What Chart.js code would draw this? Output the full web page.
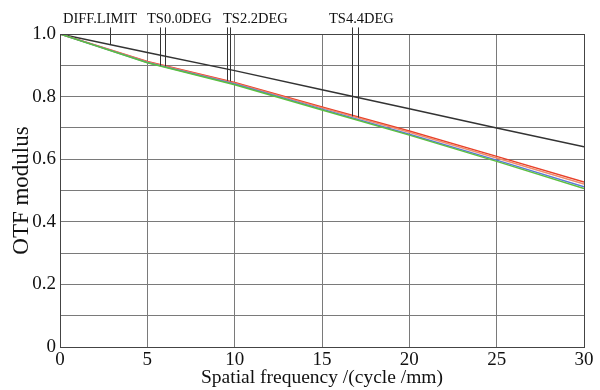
<!DOCTYPE html>
<html><head><meta charset="utf-8">
<script src="https://cdn.jsdelivr.net/npm/chart.js@4/dist/chart.umd.min.js"></script>
<style>html,body{margin:0;padding:0;background:#fff}#wrap{width:600px;height:390px}</style>
</head><body><div id="wrap"><canvas id="c" width="600" height="390"></canvas></div>
<script>
const freqs = [0, 5, 10, 15, 20, 25, 30];
const diffLimit = [1.0, 0.941, 0.883, 0.822, 0.761, 0.700, 0.640];
const tsRed    = [1.0, 0.912, 0.845, 0.767, 0.690, 0.609, 0.527];
const tsOrange = [1.0, 0.911, 0.843, 0.764, 0.686, 0.604, 0.521];
const tsBlue   = [1.0, 0.909, 0.840, 0.760, 0.680, 0.597, 0.512];
const tsGreen  = [1.0, 0.908, 0.838, 0.757, 0.677, 0.593, 0.506];
const yTicks = [0, 0.2, 0.4, 0.6, 0.8, 1.0];
const xTicks = [0, 5, 10, 15, 20, 25, 30];
// annotation labels: text, label start frequency, leader frequencies, leader end values
const annLabels = ['DIFF.LIMIT', 'TS0.0DEG', 'TS2.2DEG', 'TS4.4DEG'];
const annLabelX = [0.17, 4.98, 9.33, 15.4];
const annLeaderX = [[2.86], [5.73, 6.01], [9.56, 9.73], [16.72, 17.06]];
const annLeaderEnd = [[0.966], [0.899, 0.897], [0.851, 0.849], [0.737, 0.733]];

function pts(arr){ return freqs.map((f,i)=>({x:f,y:arr[i]})); }
const FONT = "'Liberation Serif', 'DejaVu Serif', serif";

const annPlugin = {
  id:'ann',
  afterDatasetsDraw(chart){
    const ctx = chart.ctx, xs = chart.scales.x, ys = chart.scales.y;
    ctx.save();
    ctx.strokeStyle = '#333'; ctx.lineWidth = 1;
    const top = ys.getPixelForValue(1.021);
    annLeaderX.forEach((grp,gi)=>{
      grp.forEach((fx,j)=>{
        const px = Math.round(xs.getPixelForValue(fx))+0.5;
        ctx.beginPath(); ctx.moveTo(px, top);
        ctx.lineTo(px, ys.getPixelForValue(annLeaderEnd[gi][j])); ctx.stroke();
      });
    });
    ctx.fillStyle = '#111'; ctx.font = '14.5px ' + FONT;
    ctx.textAlign = 'left'; ctx.textBaseline = 'alphabetic';
    annLabels.forEach((t,i)=>{
      ctx.fillText(t, xs.getPixelForValue(annLabelX[i]), 23);
    });
    ctx.restore();
  }
};

new Chart(document.getElementById('c'), {
  type:'line',
  data:{datasets:[
    {data:pts(tsGreen), borderColor:'#5cc040'},
    {data:pts(tsBlue), borderColor:'#5a78d8'},
    {data:pts(tsOrange), borderColor:'#f08a6a'},
    {data:pts(tsRed), borderColor:'#e8402a'},
    {data:pts(diffLimit), borderColor:'#333333'}
  ].map(d=>Object.assign(d,{borderWidth:1.5, pointRadius:0, tension:0, fill:false}))},
  options:{
    responsive:false, animation:false, devicePixelRatio:1,
    layout:{padding:{top:34, right:16, left:0, bottom:0}},
    plugins:{legend:{display:false}, tooltip:{enabled:false}},
    scales:{
      x:{type:'linear', min:0, max:30,
        afterBuildTicks(s){ s.ticks = xTicks.map(v=>({value:v})); },
        afterFit(s){ s.height = 43; },
        grid:{color:'#7a7a7a', lineWidth:1, drawTicks:false},
        border:{color:'#444', width:1},
        ticks:{padding:2, color:'#111', font:{family:FONT, size:19}, maxRotation:0,
          callback:v=>String(v)},
        title:{display:true, text:'Spatial frequency /(cycle /mm)', color:'#111',
          font:{family:FONT, size:19.5}, padding:{top:-4, bottom:0}}
      },
      y:{type:'linear', min:0, max:1.0,
        afterBuildTicks(s){ const t=[]; for(let i=0;i<=10;i++) t.push({value:i/10}); s.ticks=t; },
        afterFit(s){ s.width = 60; },
        grid:{color:'#7a7a7a', lineWidth:1, drawTicks:false},
        border:{color:'#444', width:1},
        ticks:{padding:4, color:'#111', font:{family:FONT, size:19},
          callback:v=>{ const k=Math.round(v*10); if(k%2) return ''; return k===0?'0':(k/10).toFixed(1); }},
        title:{display:true, text:'OTF modulus', color:'#111',
          font:{family:FONT, size:23}, padding:{top:8, bottom:0}}
      }
    }
  },
  plugins:[annPlugin, {id:'frame', afterDraw(chart){
    const a=chart.chartArea, ctx=chart.ctx; ctx.save(); ctx.strokeStyle='#444'; ctx.lineWidth=1;
    ctx.strokeRect(Math.round(a.left)+0.5, Math.round(a.top)+0.5, Math.round(a.right-a.left), Math.round(a.bottom-a.top)); ctx.restore(); }}]
});
</script></body></html>
